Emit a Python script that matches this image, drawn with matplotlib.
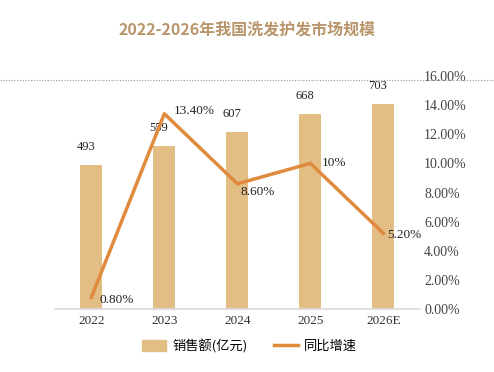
import matplotlib.pyplot as plt
from matplotlib.lines import Line2D
from matplotlib.ticker import FuncFormatter

# data
years = ['2022', '2023', '2024', '2025', '2026E']
sales = [493, 559, 607, 668, 703]            # 销售额(亿元)
growth = [0.80, 13.40, 8.60, 10.0, 5.20]     # 同比增速 (%)
growth_labels = ['0.80%', '13.40%', '8.60%', '10%', '5.20%']
pct_ticks = [0, 2, 4, 6, 8, 10, 12, 14, 16]

bar_color = '#e2bd84'
line_color = '#e08a3e'
title_color = '#b8956a'
num_font = ['Liberation Serif', 'Noto Sans CJK SC']
cjk_font = ['Noto Sans CJK SC', 'DejaVu Sans']

fig = plt.figure(figsize=(4.94, 3.72), dpi=100)
ax = fig.add_axes([0.111, 0.169, 0.739, 0.627])
x = list(range(len(years)))

ax.bar(x, sales, width=0.3, color=bar_color, zorder=2)
ax.set_xlim(-0.5, len(years) - 0.5)
ax.set_ylim(0, 800)
ax.set_yticks([])
for s in ['top', 'right', 'left']:
    ax.spines[s].set_visible(False)
ax.spines['bottom'].set_color('#d9d9d9')
ax.spines['bottom'].set_linewidth(1.2)
ax.set_xticks(x)
ax.set_xticklabels(years, family=num_font, fontsize=9.5, color='#333333')
ax.tick_params(axis='x', length=0, pad=4)

for xi, v in zip(x, sales):
    ax.annotate(str(v), (xi, v), xytext=(-4, 9), textcoords='offset points',
                ha='center', va='bottom', fontsize=9, family=num_font,
                color='#222222')

ax2 = ax.twinx()
ax2.plot(x, growth, color=line_color, linewidth=2.5, zorder=3)
ax2.set_ylim(0, 16)
ax2.set_yticks(pct_ticks)
ax2.yaxis.set_major_formatter(FuncFormatter(lambda v, p: f'{v:.2f}%'))
for lab in ax2.get_yticklabels():
    lab.set_family(num_font)
ax2.tick_params(axis='y', length=0, pad=3, labelsize=10, labelcolor='#444444')
for s in ['top', 'right', 'left', 'bottom']:
    ax2.spines[s].set_visible(False)

label_offsets = [(6, -2), (7, 2), (2, -6), (8, 0), (3, -1)]
for xi, g, t, off in zip(x, growth, growth_labels, label_offsets):
    ax2.annotate(t, (xi, g), xytext=off, textcoords='offset points',
                 ha='left', va='center', fontsize=9.5, family=num_font,
                 color='#222222')

# dotted line along the top of the plot, running across the whole figure
top_y = ax.get_position().y1 - 0.01
fig.add_artist(Line2D([0, 1], [top_y, top_y], transform=fig.transFigure,
                      color='#999999', linewidth=0.8, linestyle=(0, (1, 1.5))))

fig.text(0.5, 0.922, '2022-2026年我国洗发护发市场规模', ha='center', va='center',
         fontsize=11.5, fontweight='bold', color=title_color, family=cjk_font)

handles = [plt.Rectangle((0, 0), 1, 1, color=bar_color),
           Line2D([], [], color=line_color, linewidth=2.5)]
fig.legend(handles, ['销售额(亿元)', '同比增速'], loc='center',
           bbox_to_anchor=(0.505, 0.07), ncol=2, frameon=False,
           prop={'family': cjk_font, 'size': 9.5}, handlelength=1.8,
           handleheight=0.8, columnspacing=2.0, handletextpad=0.5)

fig.savefig('out.png', dpi=100, facecolor='white')
